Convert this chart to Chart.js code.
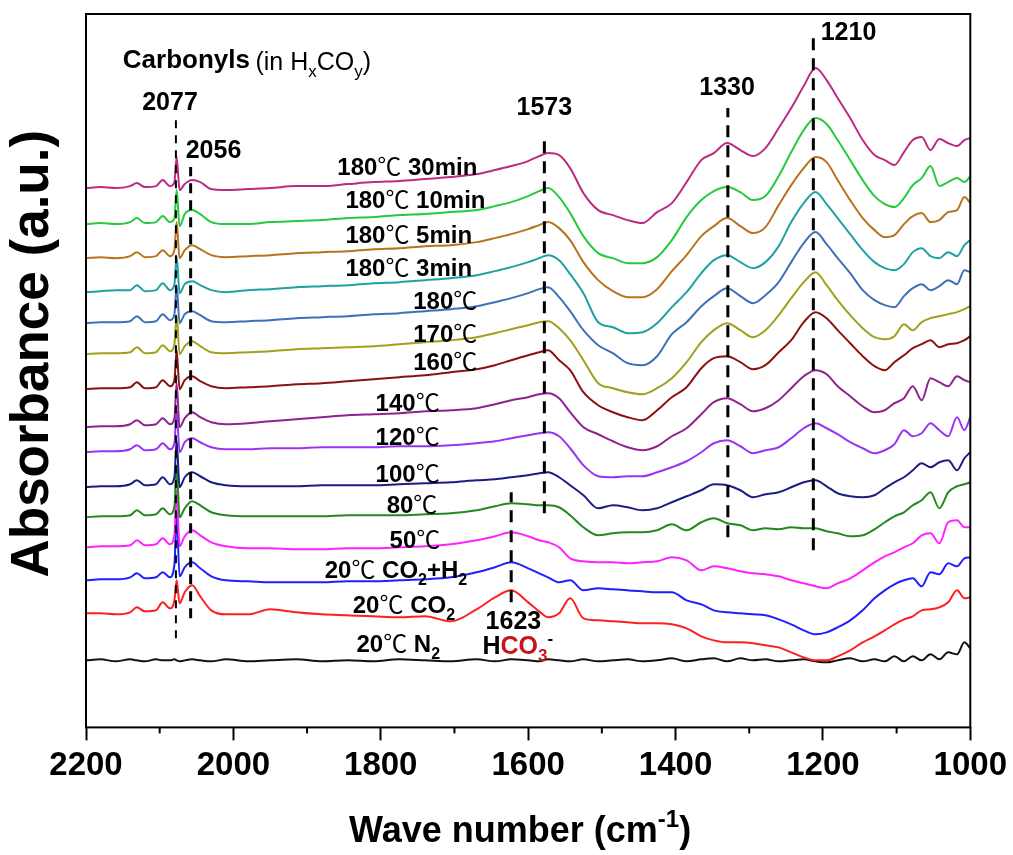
<!DOCTYPE html>
<html>
<head>
<meta charset="utf-8">
<title>DRIFTS spectra</title>
<script src="https://cdn.jsdelivr.net/npm/chart.js@4.4.1/dist/chart.umd.min.js"></script>
<style>
  html, body { margin: 0; padding: 0; background: #fff; }
  #wrap { width: 1013px; height: 855px; }
</style>
</head>
<body>
<div id="wrap"><canvas id="drifts" width="1013" height="855"></canvas></div>
<script>
// wave numbers (cm-1) shared by every spectrum
const waveNumbers = [2200,2180,2160,2140,2131,2120,2105,2096,2086,2080,2077,2073,2066,2056,2045,2030,2010,1980,1950,1915,
  1880,1845,1810,1775,1740,1705,1670,1645,1623,1600,1585,1573,1558,1543,1525,1505,1485,1465,1445,1425,
  1405,1385,1365,1348,1330,1312,1295,1278,1260,1243,1226,1210,1195,1180,1163,1146,1130,1116,1103,1090,
  1078,1066,1054,1042,1030,1018,1008,1000];

// vertical offset of each spectrum (a.u.), top to bottom
const offsets = [5.39, 5.03, 4.69, 4.35, 4.04, 3.73, 3.38, 3.00, 2.75, 2.40, 2.10, 1.80, 1.47, 1.14, 0.67];

const seriesNames = ['180℃ 30min', '180℃ 10min', '180℃ 5min', '180℃ 3min', '180℃', '170℃', '160℃',
  '140℃', '120℃', '100℃', '80℃', '50℃', '20℃ CO_2+H_2', '20℃ CO_2', '20℃ N_2'];

// spectra relative to their own offset
const s30min = [0,.01,0,.02,.05,.01,.02,.08,.02,.06, .31,-.02,.04,.08,.06,-.01,-.02,-.01,0,.02,
  .02,.04,.06,.07,.09,.11,.14,.18,.22,.27, .32,.35,.33,.20,-.05,-.22,-.27,-.32,-.35,-.24,
  -.15,.06,.28,.35,.45,.38,.32,.40,.60,.80, 1.02,1.20,1.08,.90,.70,.48,.33,.28,.23,.36,
  .48,.51,.38,.49,.45,.42,.48,.50];
const s10min = [0,.01,0,.02,.06,.01,.02,.08,.02,.06, .34,-.02,.10,.14,.10,.02,0,0,.02,.03,
  .04,.06,.07,.09,.10,.12,.14,.18,.22,.28, .33,.36,.27,.11,-.12,-.29,-.34,-.39,-.39,-.33,
  -.16,.07,.24,.33,.37,.32,.24,.28,.48,.72, .94,1.06,1.00,.84,.64,.44,.28,.20,.17,.26,
  .39,.46,.58,.38,.42,.46,.42,.48];
const s5min = [0,.01,0,.02,.06,.01,.02,.08,.02,.08, .36,0,.08,.13,.09,.03,.01,.02,.03,.05,
  .06,.07,.09,.10,.12,.13,.16,.20,.24,.29, .33,.36,.30,.18,-.04,-.22,-.33,-.39,-.39,-.31,
  -.13,.03,.22,.32,.40,.32,.25,.31,.53,.73, .90,1.01,.96,.78,.58,.40,.28,.21,.23,.34,
  .42,.45,.36,.38,.46,.48,.61,.55];
const s3min = [0,.01,.02,.02,.07,.01,.02,.09,.02,.08, .36,-.01,.08,.11,.07,.02,0,.02,.03,.05,
  .06,.07,.09,.10,.12,.14,.17,.21,.25,.30, .34,.37,.32,.18,-.01,-.30,-.35,-.41,-.40,-.31,
  -.15,0,.19,.32,.37,.30,.24,.30,.46,.70, .89,1.00,.88,.74,.58,.42,.30,.24,.22,.28,
  .40,.44,.36,.34,.40,.36,.47,.52];
const s180 = [0,.01,.01,.02,.07,.01,.02,.09,.03,.09, .38,0,.09,.12,.08,.02,.01,.02,.03,.05,
  .06,.07,.09,.10,.12,.14,.17,.21,.25,.30, .34,.36,.26,.12,-.07,-.22,-.30,-.40,-.42,-.33,
  -.11,.01,.17,.27,.35,.27,.20,.28,.41,.61, .80,.91,.79,.65,.50,.33,.23,.18,.16,.27,
  .35,.39,.33,.37,.43,.39,.53,.51];
const s170 = [0,.01,.01,.02,.07,.01,.02,.09,.03,.10, .39,0,.08,.13,.08,.02,.01,.02,.03,.05,
  .06,.07,.08,.10,.12,.14,.17,.21,.25,.29, .32,.33,.26,.14,-.06,-.29,-.34,-.38,-.40,-.34,
  -.24,-.08,.12,.24,.31,.24,.17,.24,.39,.56, .72,.82,.69,.54,.39,.26,.17,.15,.18,.30,
  .24,.32,.36,.38,.40,.42,.45,.48];
const s160 = [0,.01,.01,.02,.07,.01,.02,.09,.03,.09, .39,0,.09,.13,.08,.03,.01,.02,.03,.05,
  .06,.08,.10,.12,.14,.17,.20,.24,.29,.34, .37,.39,.29,.19,-.03,-.16,-.23,-.28,-.31,-.21,
  -.08,.02,.21,.31,.33,.27,.20,.24,.37,.49, .67,.77,.71,.59,.46,.33,.23,.19,.27,.34,
  .41,.45,.49,.42,.45,.46,.49,.53];
const s140 = [0,.01,.01,.03,.07,.02,.03,.09,.03,.09, .44,0,.09,.15,.10,.05,.03,.04,.06,.08,
  .10,.12,.13,.14,.16,.17,.19,.23,.27,.30, .33,.34,.29,.15,0,-.07,-.14,-.20,-.23,-.19,
  -.09,-.01,.13,.25,.29,.23,.16,.19,.27,.39, .51,.57,.53,.41,.31,.21,.15,.17,.24,.29,
  .41,.27,.49,.45,.41,.51,.47,.45];
const s120 = [0,.01,.01,.03,.07,.02,.03,.09,.03,.09, .42,0,.10,.14,.10,.05,.03,.03,.04,.04,
  .05,.05,.05,.06,.06,.07,.09,.11,.14,.17, .19,.20,.16,.04,-.13,-.24,-.25,-.24,-.24,-.20,
  -.15,-.09,0,.09,.12,.06,-.01,.02,.05,.14, .24,.29,.24,.18,.10,.04,-.01,.02,.08,.22,
  .16,.19,.29,.22,.16,.35,.22,.35];
const s100 = [0,.01,.01,.03,.07,.02,.03,.10,.03,.10, .47,0,.10,.15,.11,.05,.02,.01,.01,.01,
  .02,.02,.02,.03,.04,.05,.07,.08,.10,.12, .14,.15,.10,.02,-.08,-.21,-.18,-.20,-.23,-.21,
  -.15,-.09,-.03,.03,.02,-.03,-.10,-.07,-.05,0, .05,.07,.01,-.06,-.09,-.10,-.08,-.01,.05,.10,
  .17,.24,.20,.25,.27,.17,.29,.35];
const s80 = [0,.01,.01,.02,.07,.02,.03,.09,.03,.11, .52,0,.09,.16,.12,.05,.02,.01,.01,.01,
  .01,.02,.02,.02,.03,.04,.07,.11,.14,.13, .12,.12,.10,.02,-.10,-.18,-.16,-.15,-.15,-.13,
  -.07,-.13,-.05,-.01,-.06,-.08,-.13,-.11,-.12,-.10, -.11,-.11,-.14,-.16,-.19,-.18,-.12,-.05,.01,.05,
  .12,.17,.25,.09,.25,.31,.33,.35];
const s50 = [0,.01,.01,.02,.07,.02,.03,.09,.03,.13, .57,.01,.11,.17,.12,.05,.01,-.01,-.01,-.02,
  -.02,-.01,-.01,0,.01,.03,.07,.11,.15,.11, .07,.05,0,-.11,-.14,-.15,-.15,-.16,-.15,-.14,
  -.10,-.13,-.23,-.19,-.21,-.24,-.26,-.27,-.29,-.33, -.36,-.39,-.41,-.36,-.31,-.23,-.15,-.09,-.05,0,
  .04,.12,.14,.04,.25,.27,.20,.20];
const sCO2H2 = [0,.01,.01,.03,.07,.02,.03,.08,.03,.16, .65,.04,.13,.18,.12,.04,0,-.01,-.02,-.02,
  -.02,-.01,-.01,0,.01,.03,.08,.13,.18,.12, .07,.03,-.02,0,-.10,-.08,-.09,-.10,-.11,-.12,
  -.12,-.20,-.24,-.30,-.32,-.33,-.34,-.35,-.39,-.44, -.50,-.54,-.52,-.47,-.40,-.30,-.18,-.10,-.04,0,
  .02,-.06,.08,.06,.17,.14,.22,.23];
const sCO2 = [0,0,-.01,.01,.06,.02,.03,.11,.05,.13, .33,.10,.21,.28,.17,.03,-.01,-.01,.04,.01,
  -.01,-.02,-.03,-.04,-.03,-.08,.04,.16,.23,.11, .02,-.04,0,.15,-.05,-.07,-.08,-.09,-.10,-.10,
  -.11,-.15,-.23,-.27,-.29,-.29,-.30,-.32,-.34,-.39, -.44,-.47,-.47,-.43,-.37,-.29,-.23,-.17,-.11,-.06,
  -.03,.03,.04,.06,.11,.23,.15,.16];
const sN2 = [0,.01,-.01,.01,0,-.01,.01,0,0,.01, 0,-.01,0,.01,0,-.01,.01,-.01,0,.01,
  -.01,0,-.01,.01,0,-.01,.01,-.01,.01,0, -.01,.01,0,-.01,.01,-.01,0,.01,-.01,0,
  .02,-.01,.01,.02,-.01,.02,0,.01,-.01,0, .01,-.01,-.02,0,.02,-.01,.01,-.01,.04,-.01,
  .04,0,.06,.01,.08,.06,.18,.12];

const spectra = [s30min, s10min, s5min, s3min, s180, s170, s160, s140, s120, s100, s80, s50, sCO2H2, sCO2, sN2];

// where each curve name sits (cm-1, a.u.)
const labelWave = [1859, 1848, 1848, 1848, 1756, 1756, 1756, 1807, 1807, 1807, 1792, 1788, 1876, 1838, 1833];
const labelAbs = [5.52, 5.19, 4.84, 4.51, 4.18, 3.85, 3.57, 3.16, 2.82, 2.45, 2.14, 1.79, 1.49, 1.14, 0.75];

// dashed peak markers
const markerWave = [2078, 2058, 1578, 1623, 1329, 1213];
const markerTop = [6.12, 5.60, 5.92, 2.35, 6.19, 6.95];
const markerBottom = [0.89, 1.09, 2.14, 1.25, 1.90, 1.77];

// peak numbers
const peakText = ['2077', '2056', '1573', '1330', '1623'];
const peakWave = [2086, 2027, 1578, 1330, 1620];
const peakAbs = [6.17, 5.69, 6.12, 6.32, 0.98];

const colors = ['#bd2a84', '#27c93f', '#b8731f', '#1fa0a3', '#3d70b8', '#a0a01c', '#8b1111',
  '#8e2290', '#9a34f2', '#1c1c85', '#23891f', '#ff22ff', '#1f1fff', '#ff1f1f', '#111111'];

const FONT = '"Liberation Sans", Arial, Helvetica, sans-serif';

// tiny markup: _x subscript, ^x / ^{..} superscript, [..] red
function parseRich(str) {
  const runs = [];
  let buf = '', red = false, i = 0;
  const flush = () => { if (buf) { runs.push({ t: buf, k: 'n', red }); buf = ''; } };
  while (i < str.length) {
    const ch = str[i];
    if (ch === '_' || ch === '^') {
      flush();
      let t;
      if (str[i + 1] === '{') { const j = str.indexOf('}', i); t = str.slice(i + 2, j); i = j + 1; }
      else { t = str[i + 1]; i += 2; }
      runs.push({ t, k: ch === '_' ? 'sub' : 'sup', red });
    } else if (ch === '℃') {
      flush(); runs.push({ t: ch, k: 'deg', red }); i++;
    } else if (ch === '[' || ch === ']') {
      flush(); red = ch === '['; i++;
    } else { buf += ch; i++; }
  }
  flush();
  return runs;
}

function drawRich(c, str, x, y, size, weight, align) {
  const runs = parseRich(str);
  const fontFor = r => r.k === 'deg'
    ? `normal ${size}px "Noto Sans CJK SC", "DejaVu Sans", sans-serif`
    : `${weight} ${r.k === 'n' ? size : Math.round(size * 0.68)}px ${FONT}`;
  let total = 0;
  runs.forEach(r => { c.font = fontFor(r); r.w = c.measureText(r.t).width; total += r.w; });
  let cx = align === 'center' ? x - total / 2 : x;
  c.textAlign = 'left';
  c.textBaseline = 'alphabetic';
  runs.forEach(r => {
    c.font = fontFor(r);
    c.fillStyle = r.red ? '#c8141e' : '#000';
    const dy = r.k === 'sub' ? size * 0.28 : (r.k === 'sup' ? -size * 0.42 : 0);
    c.fillText(r.t, cx, y + dy);
    cx += r.w;
  });
}

const decor = {
  id: 'decor',
  afterDraw(chart) {
    const c = chart.ctx;
    const a = chart.chartArea;
    const xs = chart.scales.x, ys = chart.scales.y;
    c.save();
    // frame
    c.strokeStyle = '#000';
    c.lineWidth = 2;
    c.strokeRect(a.left, a.top, a.right - a.left, a.bottom - a.top);
    // minor ticks
    for (let w = 2100; w > 1000; w -= 200) {
      const px = xs.getPixelForValue(w);
      c.beginPath(); c.moveTo(px, a.bottom); c.lineTo(px, a.bottom + 6); c.stroke();
    }
    // curve names
    seriesNames.forEach((n, k) => {
      drawRich(c, n, xs.getPixelForValue(labelWave[k]), ys.getPixelForValue(labelAbs[k]), 24, 'bold', 'left');
    });
    // peak numbers
    peakText.forEach((t, i) => {
      drawRich(c, t, xs.getPixelForValue(peakWave[i]), ys.getPixelForValue(peakAbs[i]), 25, 'bold', 'center');
    });
    drawRich(c, '1210', xs.getPixelForValue(1203), ys.getPixelForValue(6.87), 25, 'bold', 'left');
    drawRich(c, 'H[CO_3]^-', xs.getPixelForValue(1662), ys.getPixelForValue(0.73), 25, 'bold', 'left');
    drawRich(c, 'Carbonyls', xs.getPixelForValue(2150), ys.getPixelForValue(6.59), 26, 'bold', 'left');
    drawRich(c, '(in H_xCO_y)', xs.getPixelForValue(1970), ys.getPixelForValue(6.57), 25, 'normal', 'left');
    // axis titles
    drawRich(c, 'Wave number (cm^{-1})', (a.left + a.right) / 2 - 8, 842, 36, 'bold', 'center');
    c.translate(a.left - 53, (a.top + a.bottom) / 2 - 17);
    c.rotate(-Math.PI / 2);
    c.font = `bold 53px ${FONT}`;
    c.fillStyle = '#000';
    c.textAlign = 'center';
    c.textBaseline = 'middle';
    c.fillText('Absorbance (a.u.)', 0, 0);
    c.restore();
  }
};

const datasets = [];
markerWave.forEach((w, i) => {
  datasets.push({
    label: 'peak ' + w,
    data: [{ x: w, y: markerBottom[i] }, { x: w, y: markerTop[i] }],
    borderColor: '#000',
    borderWidth: i === 0 ? 2 : 3,
    borderDash: i === 0 ? [8, 7] : (i === 1 ? [10, 7] : [12, 8]),
    pointRadius: 0,
    order: -1
  });
});
spectra.forEach((s, k) => {
  datasets.push({
    label: seriesNames[k],
    data: waveNumbers.map((w, i) => ({ x: w, y: offsets[k] + s[i] })),
    borderColor: colors[k],
    borderWidth: 2,
    pointRadius: 0,
    cubicInterpolationMode: 'monotone',
    order: k
  });
});

const drifts = new Chart(document.getElementById('drifts'), {
  type: 'line',
  data: { datasets: datasets },
  options: {
    responsive: false,
    animation: false,
    devicePixelRatio: 1,
    layout: { padding: { left: 86, right: 41, top: 14, bottom: 63 } },
    scales: {
      x: {
        type: 'linear',
        reverse: true,
        min: 1000,
        max: 2200,
        border: { display: false },
        grid: { drawOnChartArea: false, drawTicks: true, tickLength: 13, tickWidth: 2, tickColor: '#000' },
        ticks: {
          stepSize: 200,
          autoSkip: false,
          maxRotation: 0,
          padding: 6,
          color: '#000',
          font: { family: FONT, size: 33, weight: 'bold' },
          callback: v => String(v)
        }
      },
      y: { display: false, min: 0, max: 7.13 }
    },
    plugins: {
      legend: { display: false },
      tooltip: { enabled: false }
    }
  },
  plugins: [decor]
});
</script>
</body>
</html>
